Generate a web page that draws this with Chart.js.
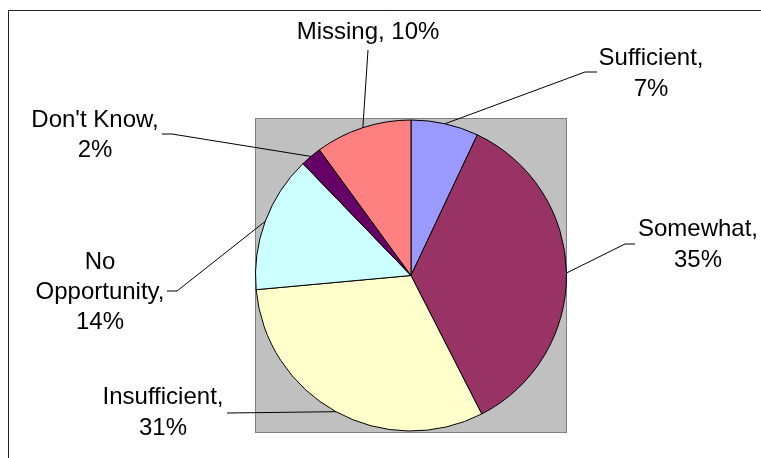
<!DOCTYPE html>
<html>
<head>
<meta charset="utf-8">
<script src="https://cdn.jsdelivr.net/npm/chart.js@4"></script>
<style>
  body { margin: 0; background: #fff; }
  canvas { display: block; }
</style>
</head>
<body>
<canvas id="pieChart" width="761" height="458"></canvas>
<script>
// data
const categories = ['Sufficient', 'Somewhat', 'Insufficient', 'No Opportunity', "Don't Know", 'Missing'];
const shares = [7, 35.4, 31, 14.2, 2.2, 10];
const sliceColors = ['#9999FF', '#993366', '#FFFFCC', '#CCFFFF', '#660066', '#FF8080'];

// label text lines and placement (text centre x, centre y of each line, leader start)
const labelLines = [
    ['Sufficient,', '7%'],
    ['Somewhat,', '35%'],
    ['Insufficient,', '31%'],
    ['No', 'Opportunity,', '14%'],
    ["Don't Know,", '2%'],
    ['Missing, 10%'],
];
const labelPlace = [
    { x: 651, y: [58, 89], lead: [[597, 72], [585, 72]] },
    { x: 698, y: [229, 260], lead: [[635, 244], [625, 244]] },
    { x: 163, y: [397, 428], lead: [[227, 413]] },
    { x: 100, y: [262, 292, 322], lead: [[167, 291], [177, 291]] },
    { x: 95, y: [120, 150], lead: [[162, 134], [172, 134]] },
    { x: 368, y: [32], lead: [[368, 50]] },
];

const frame = {
    id: 'frame',
    beforeDraw(chart) {
        const ctx = chart.ctx;
        const a = chart.chartArea;
        ctx.save();
        // outer chart border (only left and top are in view)
        ctx.strokeStyle = '#222';
        ctx.lineWidth = 1;
        ctx.beginPath();
        ctx.moveTo(8.5, chart.height);
        ctx.lineTo(8.5, 10.5);
        ctx.lineTo(chart.width, 10.5);
        ctx.stroke();
        // grey plot area
        ctx.fillStyle = '#C0C0C0';
        ctx.fillRect(a.left, a.top, a.right - a.left, a.bottom - a.top);
        ctx.strokeStyle = '#808080';
        ctx.strokeRect(a.left + 0.5, a.top + 0.5, a.right - a.left - 1, a.bottom - a.top - 1);
        ctx.restore();
    },
    afterDraw(chart) {
        const ctx = chart.ctx;
        const arcs = chart.getDatasetMeta(0).data;
        ctx.save();
        ctx.font = '24px "Liberation Sans", Arial, sans-serif';
        ctx.fillStyle = '#000';
        ctx.textAlign = 'center';
        ctx.textBaseline = 'middle';
        ctx.strokeStyle = '#000';
        ctx.lineWidth = 1;
        arcs.forEach((arc, i) => {
            const p = labelPlace[i];
            labelLines[i].forEach((txt, j) => ctx.fillText(txt, p.x, p.y[j]));
            const mid = (arc.startAngle + arc.endAngle) / 2;
            const ax = arc.x + Math.cos(mid) * arc.outerRadius;
            const ay = arc.y + Math.sin(mid) * arc.outerRadius;
            ctx.beginPath();
            ctx.moveTo(p.lead[0][0], p.lead[0][1]);
            for (let k = 1; k < p.lead.length; k++) ctx.lineTo(p.lead[k][0], p.lead[k][1]);
            ctx.lineTo(ax, ay);
            ctx.stroke();
        });
        ctx.restore();
    }
};

new Chart(document.getElementById('pieChart'), {
    type: 'pie',
    data: {
        labels: categories,
        datasets: [{
            data: shares,
            backgroundColor: sliceColors,
            borderColor: '#000',
            borderWidth: 1,
        }],
    },
    options: {
        responsive: false,
        animation: false,
        devicePixelRatio: 1,
        layout: { padding: { left: 255, right: 194, top: 118, bottom: 25 } },
        plugins: {
            legend: { display: false },
            tooltip: { enabled: false },
        },
    },
    plugins: [frame],
});
</script>
</body>
</html>
